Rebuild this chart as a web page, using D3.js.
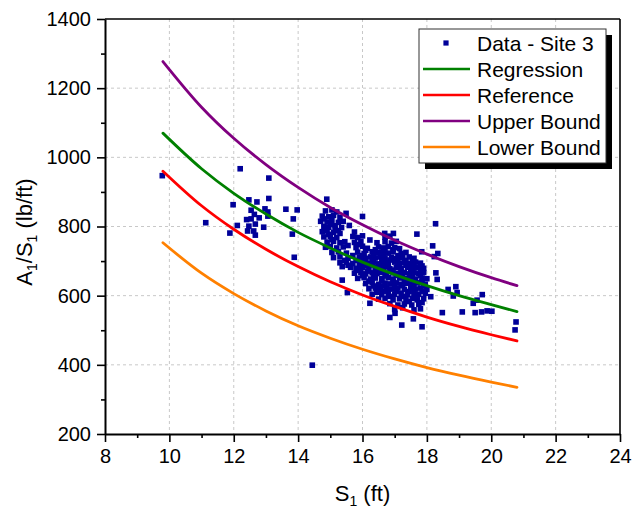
<!DOCTYPE html>
<html>
<head>
<meta charset="utf-8">
<script src="https://cdn.jsdelivr.net/npm/d3@7"></script>
<style>
  body { margin: 0; background: #fff; }
  svg { display: block; }
  text { font-family: "Liberation Sans", Arial, sans-serif; fill: #000; }
</style>
</head>
<body>
<svg id="chart" width="636" height="513"></svg>
<script>
// ---- data ----
const xTickValues = [8, 10, 12, 14, 16, 18, 20, 22, 24];
const yTickValues = [200, 400, 600, 800, 1000, 1200, 1400];
const xMinorValues = [9, 11, 13, 15, 17, 19, 21, 23];
const yMinorValues = [300, 500, 700, 900, 1100, 1300];

// S1 stations where the fitted curves are tabulated
const curveS1 = [9.8, 11, 12, 13, 14, 15, 16, 17, 18, 19, 20, 20.8];
const regression = [1070, 967, 896, 836, 783, 738, 697, 661, 629, 600, 574, 554];
const reference  = [960, 860, 792, 734, 684, 640, 602, 569, 538, 511, 487, 469];
const upperBound = [1277, 1145, 1055, 979, 913, 855, 805, 760, 720, 684, 652, 629];
const lowerBound = [753, 665, 606, 556, 513, 477, 445, 417, 392, 370, 350, 335];

// measured pairs [S1 (ft), A1/S1 (lb/ft)] – Site 3
const sitePoints = [
  [9.78,947],[11.13,811],[11.88,781],[11.98,863],[12.11,803],[12.2,967],[12.4,820],[12.43,787],
  [12.47,877],[12.47,801],[12.54,847],[12.54,822],[12.62,787],[12.64,835],[12.67,807],[12.67,775],
  [12.72,871],[12.79,825],[12.93,798],[12.97,851],[13.06,842],[13.06,830],[13.09,940],[13.09,881],
  [13.62,850],[13.82,778],[13.85,822],[13.88,711],[13.97,848],[14.44,399],
  [18.27,808],[17.69,778],[18.18,744],[18.34,722],[17.84,727],[18.28,666],[18.32,647],[18.12,597],
  [18.66,618],[18.9,626],[18.82,599],[18.94,609],[19.72,603],[19.44,578],[19.56,587],[18.48,551],
  [19.1,553],[19.5,551],[19.7,553],[19.87,556],[20.02,555],[20.77,524],[20.74,501],[17.58,533],
  [17.85,510],[17.22,515],[16.85,537],[17.01,549],[14.89,879],[15.49,838],[16.0,829],[15.59,803],
  [16.69,780],[16.96,780],
  [14.85,845],[15.05,848],[15.2,842],
  [14.75,830],[14.95,828],[15.1,832],[15.3,826],
  [14.7,815],[14.9,813],[15.05,817],[15.25,812],[15.4,815],
  [14.8,800],[14.95,798],[15.15,802],[15.35,797],
  [14.75,785],[14.9,787],[15.1,783],[15.25,788],[15.75,784],
  [14.8,770],[15.0,772],[15.2,768],[15.7,771],[15.85,768],[16.0,773],[16.7,769],[16.85,772],
  [14.9,755],[15.1,757],[15.3,753],[15.45,756],[15.75,754],[15.95,757],[16.23,761],[16.45,753],[16.7,756],[16.9,752],[17.05,757],
  [14.85,740],[15.0,742],[15.2,738],[15.4,741],[15.8,739],[16.0,743],[16.15,737],[16.5,741],[16.65,738],[16.8,742],[17.0,739],[17.15,736],
  [15.05,725],[15.25,727],[15.5,723],[15.85,726],[16.05,722],[16.3,727],[16.45,724],[16.6,726],[16.8,723],[16.95,727],[17.2,722],[17.35,725],
  [15.1,710],[15.3,712],[15.55,708],[15.9,711],[16.1,708],[16.25,712],[16.4,709],[16.55,712],[16.7,708],[16.9,711],[17.05,707],[17.25,710],[17.45,712],[17.6,708],[18.23,713],
  [15.3,695],[15.5,697],[15.7,693],[15.95,696],[16.15,694],[16.35,697],[16.5,692],[16.65,696],[16.8,694],[17.0,697],[17.15,693],[17.3,696],[17.47,693],[17.65,697],[17.8,694],
  [15.37,684],[15.63,682],[15.8,679],[16.0,682],[16.2,678],[16.4,681],[16.55,679],[16.7,683],[16.85,678],[17.05,681],[17.2,679],[17.4,682],[17.55,678],[17.7,681],[17.9,679],
  [15.75,665],[15.95,667],[16.1,663],[16.3,666],[16.45,664],[16.6,667],[16.75,663],[16.95,666],[17.1,664],[17.3,667],[17.45,663],[17.6,666],[17.75,664],[17.9,667],
  [15.85,650],[16.05,652],[16.25,648],[16.4,651],[16.6,649],[16.8,652],[16.95,648],[17.15,651],[17.35,649],[17.5,652],[17.65,648],[17.85,651],[18.0,649],
  [15.37,645],[16.1,635],[16.3,637],[16.5,633],[16.7,636],[16.85,634],[17.05,637],[17.2,633],[17.4,636],[17.55,634],[17.7,637],[17.95,633],
  [16.2,620],[16.4,622],[16.55,618],[16.75,621],[16.9,619],[17.1,622],[17.3,618],[17.5,621],[17.65,619],[17.8,622],[18.0,618],
  [15.53,609],[16.3,604],[16.44,610],[16.6,603],[16.8,606],[17.0,604],[17.2,607],[17.4,603],[17.6,606],[17.75,604],[17.95,607],
  [16.5,590],[16.7,592],[16.95,588],[17.15,591],[17.35,589],[17.55,592],[17.7,588],[17.9,591],
  [16.23,578],[16.85,577],[17.1,573],[17.3,576],[17.53,573],[17.75,575],
  [17.0,560],[17.25,565],[17.6,559],[17.8,562],
  // denser core of the cloud
  [14.8,822],[15.0,806],[15.15,791],[14.95,777],[15.3,780],[15.05,762],[15.55,745],[15.9,748],
  [16.1,731],[16.4,733],[16.7,731],[16.95,733],[17.1,716],[16.35,717],[16.65,718],[16.0,716],
  [15.7,716],[15.45,702],[15.8,702],[16.05,701],[16.3,703],[16.6,701],[16.85,703],[17.1,701],
  [17.35,702],[17.55,700],[15.55,688],[15.9,688],[16.1,687],[16.3,689],[16.6,688],[16.8,686],
  [17.1,688],[17.35,688],[17.6,687],[17.85,686],[15.85,673],[16.15,671],[16.4,673],[16.65,672],
  [16.9,674],[17.2,671],[17.5,673],[17.8,672],[16.0,658],[16.35,658],[16.7,657],[17.05,659],
  [17.25,657],[17.55,658],[17.8,658],[16.2,642],[16.6,643],[16.95,641],[17.3,642],[17.6,644],
  [17.85,641],[16.35,628],[16.65,628],[17.0,627],[17.25,629],[17.6,627],[17.9,628],[16.7,613],
  [17.05,613],[17.45,612],[17.85,613],[16.85,598],[17.25,598],[17.65,597],[17.45,583],[17.85,580]
];

// ---- layout ----
const svg = d3.select("#chart");
const x = d3.scaleLinear().domain([8, 24]).range([105, 620]);
const y = d3.scaleLinear().domain([200, 1400]).range([434, 19]);
const plotL = x.range()[0], plotR = x.range()[1];
const plotT = y.range()[1], plotB = y.range()[0];

// dashed grid at interior major ticks
const grid = svg.append("g").attr("stroke", "#c8c8c8").attr("stroke-width", 1)
  .attr("stroke-dasharray", "3,3");
xTickValues.slice(1, -1).forEach(v => {
  grid.append("line").attr("x1", x(v)).attr("x2", x(v)).attr("y1", plotT).attr("y2", plotB);
});
yTickValues.slice(1, -1).forEach(v => {
  grid.append("line").attr("x1", plotL).attr("x2", plotR).attr("y1", y(v)).attr("y2", y(v));
});

// scatter points
const ms = 5.6;
svg.append("g").selectAll("rect").data(sitePoints).join("rect")
  .attr("x", d => x(d[0]) - ms / 2).attr("y", d => y(d[1]) - ms / 2)
  .attr("width", ms).attr("height", ms).attr("fill", "#000099");

// fitted curves
const series = [
  { name: "Regression", values: regression, color: "#008000" },
  { name: "Reference", values: reference, color: "#ff0000" },
  { name: "Upper Bound", values: upperBound, color: "#800080" },
  { name: "Lower Bound", values: lowerBound, color: "#ff8000" }
];
const line = d3.line().x(d => x(d[0])).y(d => y(d[1])).curve(d3.curveMonotoneX);
series.forEach(s => {
  svg.append("path").datum(curveS1.map((v, i) => [v, s.values[i]]))
    .attr("d", line).attr("fill", "none").attr("stroke", s.color)
    .attr("stroke-width", 2.8).attr("stroke-linecap", "round");
});

// frame: top and right borders
svg.append("line").attr("x1", plotL).attr("x2", plotR).attr("y1", plotT).attr("y2", plotT)
  .attr("stroke", "#000").attr("stroke-width", 1.6);
svg.append("line").attr("x1", plotR).attr("x2", plotR).attr("y1", plotT).attr("y2", plotB)
  .attr("stroke", "#000").attr("stroke-width", 1.6);

// axes
function styleAxis(g) {
  g.selectAll(".domain").attr("stroke", "#000").attr("stroke-width", 2);
  g.selectAll(".tick line").attr("stroke", "#000").attr("stroke-width", 1.6);
  g.selectAll(".tick text").style("font-family", "'Liberation Sans', Arial, sans-serif")
    .style("font-size", "20px").attr("fill", "#000");
}
const xAxis = svg.append("g").attr("transform", `translate(0,${plotB})`)
  .call(d3.axisBottom(x).tickValues(xTickValues).tickFormat(d3.format("d"))
    .tickSize(8).tickPadding(7).tickSizeOuter(0));
styleAxis(xAxis);
const xMinor = svg.append("g").attr("transform", `translate(0,${plotB})`)
  .call(d3.axisBottom(x).tickValues(xMinorValues).tickSize(4).tickFormat("").tickSizeOuter(0));
styleAxis(xMinor);
xMinor.select(".domain").remove();

const yAxis = svg.append("g").attr("transform", `translate(${plotL},0)`)
  .call(d3.axisLeft(y).tickValues(yTickValues).tickFormat(d3.format("d"))
    .tickSize(8).tickPadding(6).tickSizeOuter(0));
styleAxis(yAxis);
const yMinor = svg.append("g").attr("transform", `translate(${plotL},0)`)
  .call(d3.axisLeft(y).tickValues(yMinorValues).tickSize(4).tickFormat("").tickSizeOuter(0));
styleAxis(yMinor);
yMinor.select(".domain").remove();

// axis titles
const xTitle = svg.append("text").attr("x", (plotL + plotR) / 2).attr("y", 501)
  .attr("text-anchor", "middle").style("font-size", "22px");
xTitle.append("tspan").text("S");
xTitle.append("tspan").attr("dy", 5).style("font-size", "14px").text("1");
xTitle.append("tspan").attr("dy", -5).text(" (ft)");

const yTitle = svg.append("text").attr("transform", "translate(32,232) rotate(-90)")
  .attr("text-anchor", "middle").style("font-size", "22px");
yTitle.append("tspan").text("A");
yTitle.append("tspan").attr("dy", 5).style("font-size", "14px").text("1");
yTitle.append("tspan").attr("dy", -5).text("/S");
yTitle.append("tspan").attr("dy", 5).style("font-size", "14px").text("1");
yTitle.append("tspan").attr("dy", -5).text(" (lb/ft)");

// legend with drop shadow
const lg = svg.append("g");
const lgX = 419, lgY = 29, lgW = 187, lgH = 134;
lg.append("rect").attr("x", lgX + 6).attr("y", lgY + 6).attr("width", lgW).attr("height", lgH)
  .attr("fill", "#000");
lg.append("rect").attr("x", lgX).attr("y", lgY).attr("width", lgW).attr("height", lgH)
  .attr("fill", "#fff").attr("stroke", "#333").attr("stroke-width", 1);
const legendItems = [{ name: "Data - Site 3", marker: true }].concat(series);
legendItems.forEach((d, i) => {
  const base = 51 + i * 26;
  if (d.marker) {
    lg.append("rect").attr("x", 446 - 2.6).attr("y", base - 8 - 2.6)
      .attr("width", 5.2).attr("height", 5.2).attr("fill", "#000099");
  } else {
    lg.append("line").attr("x1", 423).attr("x2", 470).attr("y1", base - 8).attr("y2", base - 8)
      .attr("stroke", d.color).attr("stroke-width", 2.6);
  }
  lg.append("text").attr("x", 477).attr("y", base).style("font-size", "21px").text(d.name);
});
</script>
</body>
</html>
